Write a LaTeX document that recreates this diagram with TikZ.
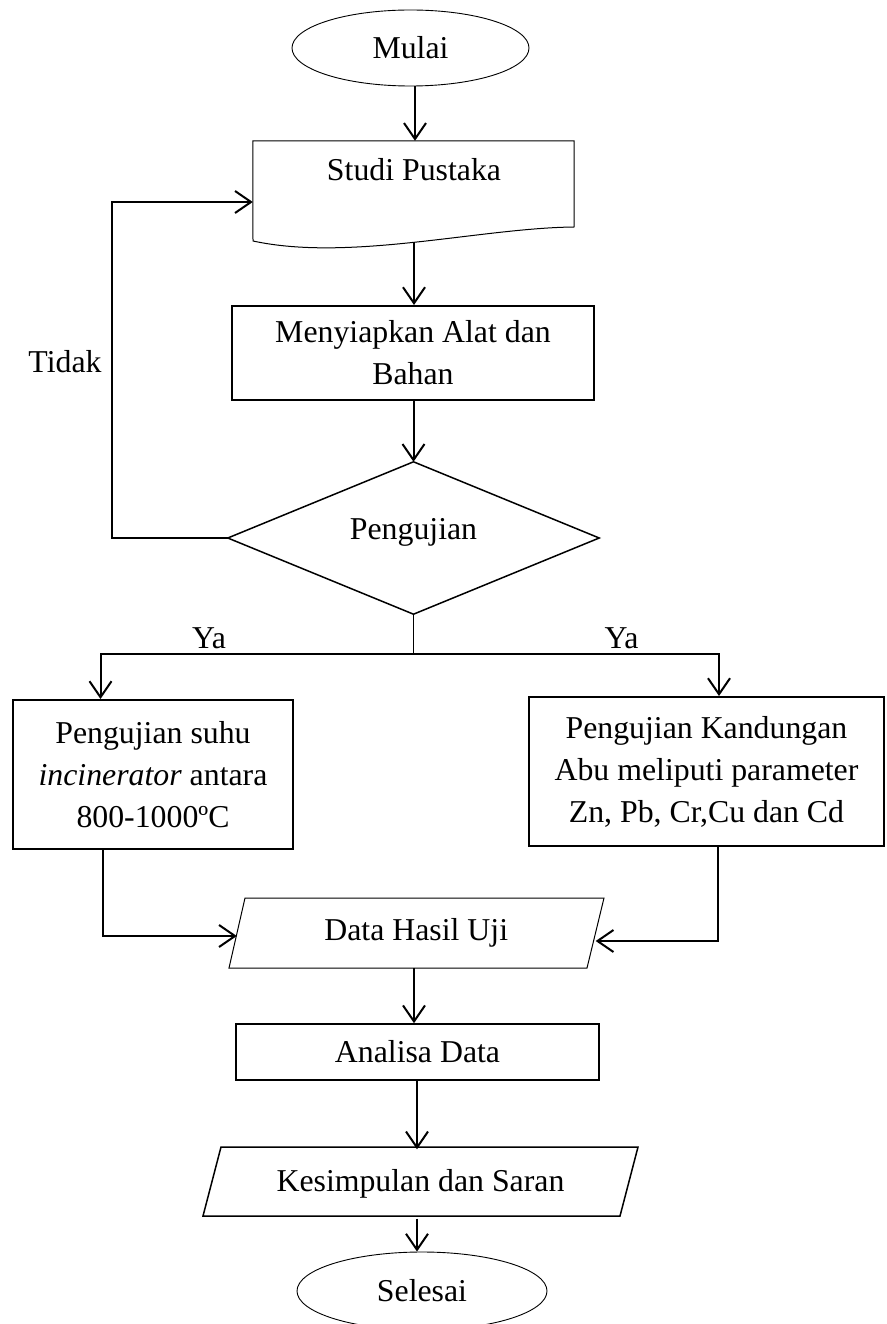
\documentclass[tikz,border=0pt]{standalone}
\usepackage{fontspec}
\setmainfont{Liberation Serif}
\usetikzlibrary{arrows.meta,shapes.geometric}
\begin{document}
\begin{tikzpicture}[x=1pt,y=-1pt,
  font=\fontsize{31.8pt}{42pt}\selectfont,
  arr/.style={line width=2pt,-{Straight Barb[length=16pt,width=22pt]}},
  box/.style={draw,rectangle,line width=1.8pt,inner sep=0pt,align=center},
  ghost/.style={rectangle,inner sep=0pt,align=center},
  term/.style={draw,ellipse,line width=0.9pt,inner sep=0pt},
  thinshape/.style={line width=1pt,line join=miter},
  ]
\clip (0,0) rectangle (886,1324);
\fill[white] (0,0) rectangle (886,1324);
% coordinates for connector columns
\coordinate (cx0) at (415,0);
\coordinate (cx1) at (414,0);
\coordinate (cx2) at (417,0);
\coordinate (lx) at (103,0);
\coordinate (rx) at (717.5,0);
\coordinate (lp) at (111.5,202);
\coordinate (br) at (413.5,654);
\coordinate (la) at (100.5,654);
\coordinate (ra) at (719,654);
% start
\node[term,minimum width=237pt,minimum height=76pt] (mulai) at (410.5,48) {Mulai};
% document shape
\node[ghost,minimum width=321pt,minimum height=101pt] (sp) at (413.5,191.5) {};
\draw[thinshape] (sp.north west) -- (sp.north east) -- (574,227)
  .. controls (480,228) and (350,262) .. (253,241) -- cycle;
\node (sptxt) at (414,170) {Studi Pustaka};
% prepare
\node[box,line width=2pt,minimum width=362pt,minimum height=94pt] (alat) at (413,353) {Menyiapkan Alat dan\\Bahan};
% decision
\node[ghost,minimum width=371pt,minimum height=152pt] (uji) at (413.5,538) {};
\draw[line width=1.5pt] (uji.west) -- (uji.north) -- (uji.east) -- (uji.south) -- cycle;
\node (ujitxt) at (413.5,532) {Pengujian};
\node (tidak) at (65,362) {Tidak};
\node (ya1) at (209,638) {Ya};
\node (ya2) at (621.5,638) {Ya};
% tests
\node[box,line width=2pt,minimum width=280pt,minimum height=149pt] (lbox) at (153,774.5) {Pengujian suhu\\\textit{incinerator} antara\\800-1000ºC};
\node[box,line width=2pt,minimum width=355pt,minimum height=149pt] (rbox) at (706.5,771.5) {Pengujian Kandungan\\Abu meliputi parameter\\Zn, Pb, Cr,Cu dan Cd};
% data
\node[ghost,minimum width=358.5pt,minimum height=70pt] (data) at (416.25,933) {Data Hasil Uji};
\draw[thinshape] (245,898) -- (604,898) -- (587,968) -- (229,968) -- cycle;
% analysis
\node[box,line width=1.6pt,minimum width=363pt,minimum height=56pt] (ana) at (417.5,1052) {Analisa Data};
% conclusion
\node[ghost,minimum width=417pt,minimum height=69pt] (kes) at (420.5,1184) {Kesimpulan dan Saran};
\draw[line width=1.5pt] (221,1147) -- (638,1147) -- (620,1216) -- (203,1216) -- cycle;
% end
\node[term,minimum width=250pt,minimum height=78pt] (sel) at (422,1291) {Selesai};
% connectors
\draw[arr] (mulai.south -| cx0) -- (sp.north -| cx0);
\draw[arr] (sp.south -| cx1) -- (alat.north -| cx1);
\draw[arr] (alat.south -| uji.north) -- (uji.north);
\draw[arr] (uji.west) -| (lp) -- (lp -| sp.west);
\draw[line width=1pt] (uji.south) -- (br);
\draw[arr] (br) -- (la) -- (la |- lbox.north);
\draw[arr] (br) -- (ra) -- (ra |- rbox.north);
\draw[arr] (lbox.south -| lx) |- ([yshift=-3pt]data.west);
\draw[arr] (rbox.south -| rx) |- ([yshift=-8pt]data.east);
\draw[arr] (data.south -| cx1) -- (ana.north -| cx1);
\draw[arr] (ana.south -| cx2) -- (kes.north -| cx2);
\draw[arr] (kes.south -| cx2) -- (sel.north -| cx2);
\end{tikzpicture}
\end{document}
